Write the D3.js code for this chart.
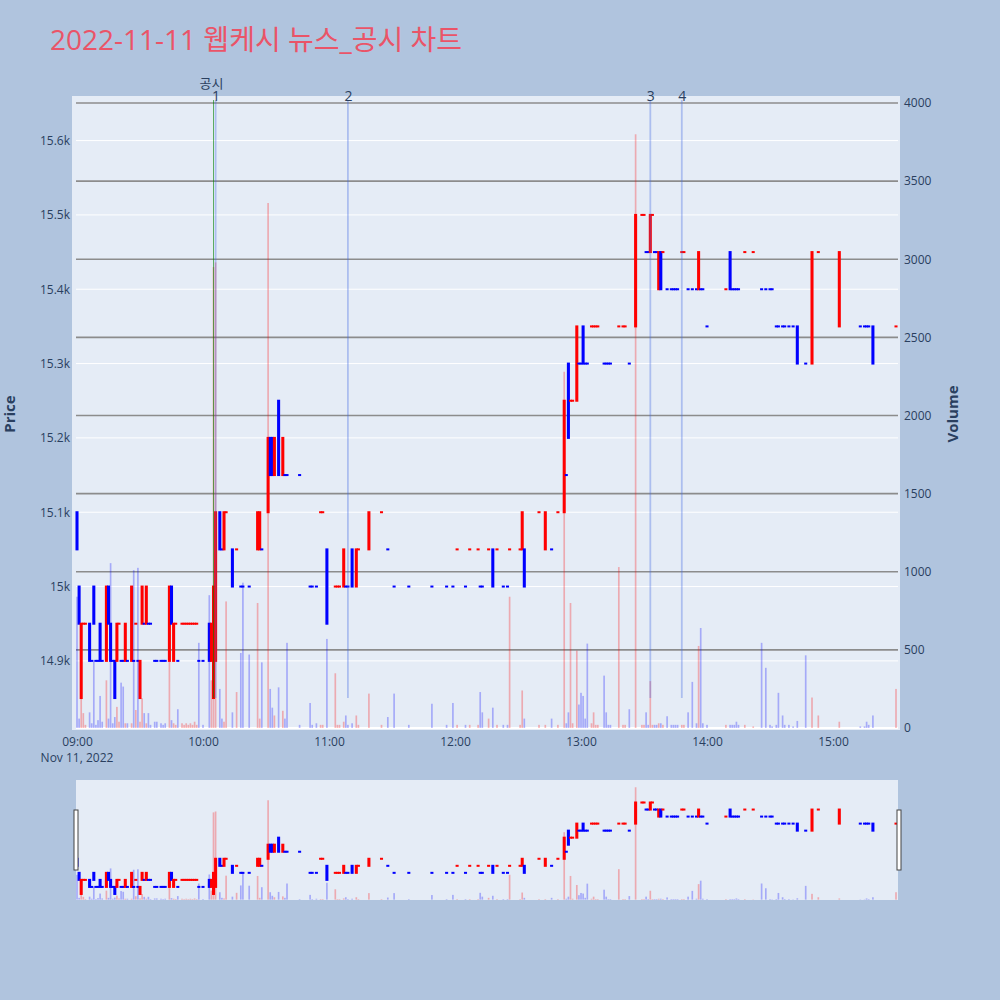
<!DOCTYPE html>
<html>
<head>
<meta charset="utf-8">
<script src="https://d3js.org/d3.v7.min.js"></script>
<style>
    body { margin: 0; background: #b0c4de; }
    #chart-area { width: 1000px; height: 1000px; }
    text { font-family: "Open Sans", "Noto Sans CJK KR", sans-serif; }
</style>
</head>
<body>
<div id="chart-area"></div>
<script>

// chart texts
var chartTitle = "2022-11-11 웹케시 뉴스_공시 차트";
var tradeDate = "2022-11-11";
var dateLabel = "Nov 11, 2022";

// 1 minute candles (only minutes with trades), one line per hour
var times = [
    "09:00","09:01","09:02","09:03","09:04","09:06","09:07","09:08","09:09","09:10","09:11","09:12","09:14","09:15","09:16","09:17","09:18","09:19","09:20","09:21","09:22","09:23","09:24","09:26","09:27","09:28","09:29","09:30","09:31","09:32","09:33","09:34","09:35","09:37","09:38","09:40","09:41","09:42","09:44","09:45","09:46","09:47","09:48","09:50","09:51","09:52","09:53","09:54","09:55","09:56","09:57","09:58",
    "10:00","10:03","10:04","10:05","10:06","10:08","10:09","10:10","10:11","10:14","10:16","10:18","10:19","10:22","10:26","10:27","10:28","10:31","10:32","10:33","10:34","10:36","10:38","10:39","10:40","10:46","10:51","10:52","10:54","10:56","10:57","10:59",
    "11:03","11:04","11:05","11:07","11:08","11:09","11:11","11:13","11:14","11:19","11:25","11:28","11:31","11:38","11:49","11:56","11:59",
    "12:01","12:05","12:07","12:11","12:12","12:13","12:16","12:18","12:20","12:23","12:25","12:26","12:31","12:32","12:33","12:40","12:43","12:46","12:49","12:52","12:53","12:54","12:55","12:56","12:58","12:59",
    "13:00","13:01","13:02","13:03","13:05","13:06","13:07","13:08","13:11","13:12","13:13","13:14","13:18","13:20","13:21","13:23","13:26","13:29","13:30","13:31","13:32","13:33","13:34","13:35","13:36","13:37","13:38","13:39","13:41","13:43","13:44","13:45","13:46","13:48","13:49","13:51","13:53","13:55","13:56","13:57","13:58",
    "14:00","14:09","14:11","14:12","14:13","14:14","14:15","14:18","14:22","14:26","14:28","14:30","14:31","14:33","14:34","14:36","14:37","14:39","14:41","14:43","14:47","14:50","14:53",
    "15:03","15:13","15:15","15:16","15:17","15:19","15:30"
];

var opens = [
    15100,15000,14850,14950,14950,14950,14900,15000,14900,14900,14950,14900,14900,15000,14950,14900,14900,14900,14950,14900,14900,14900,14900,14900,14900,14950,14900,14850,14950,14950,14950,14950,14950,14900,14900,14900,14900,14900,14900,15000,14900,14950,14900,14950,14950,14950,14950,14950,14950,14950,14950,14900,
    14900,14950,14900,14850,14900,15100,15050,15050,15100,15050,15050,15000,15000,15000,15050,15050,15050,15100,15200,15200,15150,15250,15150,15150,15150,15150,15000,15000,15000,15100,15100,15050,
    15000,15000,15000,15000,15000,15000,15050,15000,15050,15050,15100,15050,15000,15000,15000,15000,15000,
    15050,15000,15050,15050,15000,15000,15050,15050,15050,15000,15000,15050,15050,15050,15050,15100,15050,15050,15100,15100,15150,15300,15250,15250,15250,15300,
    15300,15350,15300,15300,15350,15350,15350,15350,15300,15300,15300,15300,15350,15350,15350,15300,15350,15500,15500,15450,15450,15450,15500,15450,15450,15400,15450,15450,15400,15400,15400,15400,15400,15450,15450,15400,15400,15400,15400,15400,15400,
    15350,15400,15450,15400,15400,15400,15400,15450,15450,15400,15400,15400,15400,15350,15350,15350,15350,15350,15350,15350,15300,15300,15450,
    15350,15350,15350,15350,15350,15350,15350
];

var highs = [
    15100,15000,14950,14950,14950,14950,14900,15000,14900,14900,14950,14900,15000,15000,14950,14900,14900,14950,14950,14900,14900,14950,14900,15000,14900,14950,14900,14900,15000,14950,15000,14950,14950,14900,14900,14900,14900,14900,15000,15000,14950,14950,14900,14950,14950,14950,14950,14950,14950,14950,14950,14900,
    14900,14950,14950,15000,15100,15100,15050,15100,15100,15050,15050,15000,15000,15000,15100,15100,15050,15200,15200,15200,15200,15250,15200,15150,15150,15150,15000,15000,15000,15100,15100,15050,
    15000,15000,15000,15050,15000,15000,15050,15050,15050,15100,15100,15050,15000,15000,15000,15000,15000,
    15050,15000,15050,15050,15000,15000,15050,15050,15050,15000,15000,15050,15050,15100,15050,15100,15100,15050,15100,15250,15150,15300,15250,15250,15350,15300,
    15300,15350,15300,15300,15350,15350,15350,15350,15300,15300,15300,15300,15350,15350,15350,15300,15500,15500,15500,15450,15450,15500,15500,15450,15450,15450,15450,15450,15400,15400,15400,15400,15400,15450,15450,15400,15400,15400,15450,15400,15400,
    15350,15400,15450,15400,15400,15400,15400,15450,15450,15400,15400,15400,15400,15350,15350,15350,15350,15350,15350,15350,15300,15450,15450,
    15450,15350,15350,15350,15350,15350,15350
];

var lows = [
    15050,14950,14850,14950,14950,14900,14900,14950,14900,14900,14900,14900,14900,14950,14900,14900,14850,14900,14950,14900,14900,14900,14900,14900,14900,14950,14900,14850,14950,14950,14950,14950,14950,14900,14900,14900,14900,14900,14900,14950,14900,14950,14900,14950,14950,14950,14950,14950,14950,14950,14950,14900,
    14900,14900,14900,14850,14900,15050,15050,15050,15100,15000,15050,15000,15000,15000,15050,15050,15050,15100,15150,15150,15150,15150,15150,15150,15150,15150,15000,15000,15000,15100,15100,14950,
    15000,15000,15000,15000,15000,15000,15000,15000,15050,15050,15100,15050,15000,15000,15000,15000,15000,
    15050,15000,15050,15050,15000,15000,15050,15000,15050,15000,15000,15050,15050,15050,15000,15100,15050,15050,15100,15100,15150,15200,15250,15250,15250,15300,
    15300,15300,15300,15300,15350,15350,15350,15350,15300,15300,15300,15300,15350,15350,15350,15300,15350,15500,15500,15450,15450,15450,15500,15450,15450,15400,15400,15450,15400,15400,15400,15400,15400,15450,15450,15400,15400,15400,15400,15400,15400,
    15350,15400,15400,15400,15400,15400,15400,15450,15450,15400,15400,15400,15400,15350,15350,15350,15350,15350,15350,15300,15300,15300,15450,
    15350,15350,15350,15350,15350,15300,15350
];

var closes = [
    15050,14950,14950,14950,14950,14900,14900,14950,14900,14900,14900,14900,15000,14950,14900,14900,14850,14950,14950,14900,14900,14950,14900,15000,14900,14950,14900,14900,15000,14950,15000,14950,14950,14900,14900,14900,14900,14900,15000,14950,14950,14950,14900,14950,14950,14950,14950,14950,14950,14950,14950,14900,
    14900,14900,14950,15000,15100,15050,15050,15100,15100,15000,15050,15000,15000,15000,15100,15100,15050,15200,15150,15150,15200,15150,15200,15150,15150,15150,15000,15000,15000,15100,15100,14950,
    15000,15000,15000,15050,15000,15000,15000,15050,15050,15100,15100,15050,15000,15000,15000,15000,15000,
    15050,15000,15050,15050,15000,15000,15050,15000,15050,15000,15000,15050,15050,15100,15000,15100,15100,15050,15100,15250,15150,15200,15250,15250,15350,15300,
    15300,15300,15300,15300,15350,15350,15350,15350,15300,15300,15300,15300,15350,15350,15350,15300,15500,15500,15500,15450,15450,15500,15500,15450,15450,15450,15400,15450,15400,15400,15400,15400,15400,15450,15450,15400,15400,15400,15450,15400,15400,
    15350,15400,15400,15400,15400,15400,15400,15450,15450,15400,15400,15400,15400,15350,15350,15350,15350,15350,15350,15300,15300,15450,15450,
    15450,15350,15350,15350,15350,15300,15350
];

var volumes = [
    840,60,190,95,20,100,30,435,20,50,205,40,305,60,1055,30,70,135,40,290,265,30,30,30,1010,115,1025,40,190,95,30,95,20,40,40,30,20,30,425,50,30,20,120,30,20,30,20,30,20,40,20,545,
    20,850,305,2950,2980,250,60,40,810,100,230,480,930,470,800,60,420,3360,250,130,80,260,110,60,545,20,160,20,30,20,20,570,
    350,20,20,40,80,20,30,80,20,220,20,70,220,20,155,20,160,
    20,20,20,20,230,100,60,130,20,20,20,840,20,240,60,20,20,60,20,2280,30,100,800,30,495,150,
    225,205,60,540,30,100,20,20,335,100,20,20,1030,20,20,120,3800,20,20,100,20,300,20,20,20,30,30,20,75,20,20,20,20,20,20,100,295,30,525,640,30,
    20,20,20,20,20,40,20,20,10,545,385,20,10,20,225,80,20,20,10,45,465,195,80,
    40,10,10,40,20,80,250
];

// news and disclosure markers
var newsTimes = ["10:06", "11:09", "13:33", "13:48"];
var newsLabels = ["1", "2", "3", "4"];
var disclosureTimes = ["10:05"];
var disclosureLabels = ["공시"];

// tick labels
var hourTicks = ["09:00", "10:00", "11:00", "12:00", "13:00", "14:00", "15:00"];
var priceTicks = [14900, 15000, 15100, 15200, 15300, 15400, 15500, 15600];
var volumeTicks = [0, 500, 1000, 1500, 2000, 2500, 3000, 3500, 4000];


/*
 * CandleChart - Object constructor function
 * @param _parentElement 	-- the HTML element in which to draw the visualization
 */

CandleChart = function(_parentElement){
    this.parentElement = _parentElement;
    this.initVis();
};


CandleChart.prototype.initVis = function(){
    var vis = this;

    vis.width = 1000;
    vis.height = 1000;
    vis.plot = { left: 72, right: 900, top: 96, bottom: 730 };
    vis.slider = { left: 76, right: 898, top: 780, bottom: 900 };

    vis.svg = d3.select("#" + vis.parentElement).append("svg")
        .attr("width", vis.width)
        .attr("height", vis.height);

    vis.svg.append("rect")
        .attr("width", vis.width)
        .attr("height", vis.height)
        .attr("fill", "#b0c4de");

    vis.parseTime = function(t) { return d3.timeParse("%Y-%m-%d %H:%M:%S")(tradeDate + " " + t + (t.length == 5 ? ":00" : "")); };

    // scales (ranges padded like the original autorange)
    vis.x = d3.scaleTime()
        .domain([vis.parseTime("08:57:37"), vis.parseTime("15:31:54")])
        .range([vis.plot.left, vis.plot.right]);

    vis.y = d3.scaleLinear()
        .domain([14807, 15660])
        .range([vis.plot.bottom, vis.plot.top]);

    vis.yVol = d3.scaleLinear()
        .domain([-13, 4045])
        .range([vis.plot.bottom, vis.plot.top]);

    vis.ySlider = vis.y.copy().range([vis.slider.bottom, vis.slider.top]);
    vis.yVolSlider = vis.yVol.copy().range([vis.slider.bottom, vis.slider.top]);

    vis.wrangleData();
};


CandleChart.prototype.wrangleData = function(){
    var vis = this;

    // direction: close vs open, ties decided by the previous close
    vis.candles = [];
    var prevClose = null, prevUp = false;
    times.forEach(function(t, i){
        var up;
        if (closes[i] > opens[i]) up = true;
        else if (closes[i] < opens[i]) up = false;
        else if (prevClose !== null && closes[i] > prevClose) up = true;
        else if (prevClose !== null && closes[i] < prevClose) up = false;
        else up = prevUp;
        vis.candles.push({
            date: vis.parseTime(t),
            open: opens[i], high: highs[i], low: lows[i], close: closes[i],
            volume: volumes[i], up: up
        });
        prevClose = closes[i];
        prevUp = up;
    });

    vis.news = newsTimes.map(function(t, i){ return { date: vis.parseTime(t), label: newsLabels[i] }; });
    vis.disclosures = disclosureTimes.map(function(t, i){ return { date: vis.parseTime(t), label: disclosureLabels[i] }; });

    vis.updateVis();
};


CandleChart.prototype.drawTraces = function(g, yPrice, yVolume){
    var vis = this;
    var minute = vis.x(vis.parseTime("09:01")) - vis.x(vis.parseTime("09:00"));
    var half = minute * 0.25;
    var barW = minute * 0.8;

    var color = function(d) { return d.up ? "#ff0000" : "#0000ff"; };

    // wicks
    g.selectAll(".wick")
        .data(vis.candles.filter(function(d){ return d.high > Math.max(d.open, d.close) || d.low < Math.min(d.open, d.close); }))
        .enter().append("line")
        .attr("class", "wick")
        .attr("x1", function(d){ return vis.x(d.date); })
        .attr("x2", function(d){ return vis.x(d.date); })
        .attr("y1", function(d){ return yPrice(d.high); })
        .attr("y2", function(d){ return yPrice(d.low); })
        .attr("stroke", color)
        .attr("stroke-width", 2);

    // bodies (line width 2 around a narrow box)
    g.selectAll(".body")
        .data(vis.candles)
        .enter().append("rect")
        .attr("class", "body")
        .attr("x", function(d){ return vis.x(d.date) - half - 1; })
        .attr("width", half * 2 + 2)
        .attr("y", function(d){ return yPrice(Math.max(d.open, d.close)) - 1; })
        .attr("height", function(d){ return Math.abs(yPrice(d.open) - yPrice(d.close)) + 2; })
        .attr("fill", color);

    // volume bars
    g.selectAll(".vol")
        .data(vis.candles)
        .enter().append("rect")
        .attr("class", "vol")
        .attr("x", function(d){ return vis.x(d.date) - barW / 2; })
        .attr("width", barW)
        .attr("y", function(d){ return yVolume(d.volume); })
        .attr("height", function(d){ return yVolume(0) - yVolume(d.volume); })
        .attr("fill", color)
        .attr("opacity", 0.28);
};


CandleChart.prototype.updateVis = function(){
    var vis = this;

    // title
    vis.svg.append("text")
        .attr("x", 50)
        .attr("y", 50)
        .attr("font-size", 28)
        .attr("fill", "#ea5468")
        .text(chartTitle);

    // plot background
    vis.svg.append("rect")
        .attr("x", vis.plot.left)
        .attr("y", vis.plot.top)
        .attr("width", vis.plot.right - vis.plot.left)
        .attr("height", vis.plot.bottom - vis.plot.top)
        .attr("fill", "#e5ecf6");

    // price grid (white)
    vis.svg.selectAll(".pgrid")
        .data(priceTicks)
        .enter().append("line")
        .attr("class", "pgrid")
        .attr("x1", 76).attr("x2", 898)
        .attr("y1", function(d){ return vis.y(d); })
        .attr("y2", function(d){ return vis.y(d); })
        .attr("stroke", "#ffffff")
        .attr("stroke-width", 1);

    // volume grid (gray) and zero line
    vis.svg.selectAll(".vgrid")
        .data(volumeTicks.filter(function(d){ return d > 0; }))
        .enter().append("line")
        .attr("class", "vgrid")
        .attr("x1", 76).attr("x2", 898)
        .attr("y1", function(d){ return vis.yVol(d); })
        .attr("y2", function(d){ return vis.yVol(d); })
        .attr("stroke", "#8c8c8c")
        .attr("stroke-width", 1.6);

    vis.svg.append("line")
        .attr("x1", 76).attr("x2", 898)
        .attr("y1", vis.yVol(0)).attr("y2", vis.yVol(0))
        .attr("stroke", "#ffffff")
        .attr("stroke-width", 2);

    // candles + volume
    vis.svg.append("clipPath").attr("id", "plot-clip")
        .append("rect")
        .attr("x", vis.plot.left).attr("y", vis.plot.top)
        .attr("width", vis.plot.right - vis.plot.left)
        .attr("height", vis.plot.bottom - vis.plot.top);

    vis.main = vis.svg.append("g").attr("clip-path", "url(#plot-clip)");
    vis.drawTraces(vis.main, vis.y, vis.yVol);

    // news lines
    var lineTop = 100;
    var lineBottom = vis.y(d3.min(lows));

    vis.svg.selectAll(".news")
        .data(vis.news)
        .enter().append("line")
        .attr("class", "news")
        .attr("x1", function(d){ return vis.x(d.date); })
        .attr("x2", function(d){ return vis.x(d.date); })
        .attr("y1", lineTop).attr("y2", lineBottom)
        .attr("stroke", "#4169e1")
        .attr("stroke-opacity", 0.35)
        .attr("stroke-width", 1.8);

    vis.svg.selectAll(".disc")
        .data(vis.disclosures)
        .enter().append("line")
        .attr("class", "disc")
        .attr("x1", function(d){ return vis.x(d.date); })
        .attr("x2", function(d){ return vis.x(d.date); })
        .attr("y1", lineTop).attr("y2", lineBottom)
        .attr("stroke", "#008000")
        .attr("stroke-opacity", 0.6)
        .attr("stroke-width", 1);

    vis.svg.selectAll(".disc-label")
        .data(vis.disclosures)
        .enter().append("text")
        .attr("class", "disc-label")
        .attr("x", function(d){ return vis.x(d.date) - 2; })
        .attr("y", 88)
        .attr("text-anchor", "middle")
        .attr("font-size", 13)
        .attr("fill", "#2a3f5f")
        .text(function(d){ return d.label; });

    vis.svg.selectAll(".news-label")
        .data(vis.news)
        .enter().append("text")
        .attr("class", "news-label")
        .attr("x", function(d){ return vis.x(d.date) + 0.5; })
        .attr("y", 101)
        .attr("text-anchor", "middle")
        .attr("font-size", 14)
        .attr("fill", "#2a3f5f")
        .text(function(d){ return d.label; });

    // axes
    var xAxis = d3.axisBottom(vis.x)
        .tickValues(hourTicks.map(vis.parseTime))
        .tickFormat(d3.timeFormat("%H:%M"))
        .tickSize(0)
        .tickPadding(7);

    var yAxis = d3.axisLeft(vis.y)
        .tickValues(priceTicks)
        .tickFormat(d3.format("~s"))
        .tickSize(0)
        .tickPadding(2);

    var yVolAxis = d3.axisRight(vis.yVol)
        .tickValues(volumeTicks)
        .tickFormat(d3.format("d"))
        .tickSize(0)
        .tickPadding(4);

    var gx = vis.svg.append("g").attr("transform", "translate(0," + vis.plot.bottom + ")").call(xAxis);
    var gy = vis.svg.append("g").attr("transform", "translate(" + vis.plot.left + ",0)").call(yAxis);
    var gv = vis.svg.append("g").attr("transform", "translate(" + vis.plot.right + ",0)").call(yVolAxis);

    [gx, gy, gv].forEach(function(g){
        g.select(".domain").remove();
        g.selectAll("text")
            .attr("font-family", "'Open Sans', sans-serif")
            .attr("font-size", 12)
            .attr("fill", "#2a3f5f");
    });

    vis.svg.append("text")
        .attr("x", vis.x(vis.parseTime(hourTicks[0])))
        .attr("y", 762)
        .attr("text-anchor", "middle")
        .attr("font-size", 12)
        .attr("fill", "#2a3f5f")
        .text(dateLabel);

    // axis titles
    vis.svg.append("text")
        .attr("transform", "translate(15,414) rotate(-90)")
        .attr("text-anchor", "middle")
        .attr("font-size", 15)
        .attr("font-weight", "bold")
        .attr("fill", "#2a3f5f")
        .text("Price");

    vis.svg.append("text")
        .attr("transform", "translate(958,414) rotate(-90)")
        .attr("text-anchor", "middle")
        .attr("font-size", 15)
        .attr("font-weight", "bold")
        .attr("fill", "#2a3f5f")
        .text("Volume");

    // range slider
    vis.svg.append("rect")
        .attr("x", vis.slider.left).attr("y", vis.slider.top)
        .attr("width", vis.slider.right - vis.slider.left)
        .attr("height", vis.slider.bottom - vis.slider.top)
        .attr("fill", "#e5ecf6");

    vis.svg.append("clipPath").attr("id", "slider-clip")
        .append("rect")
        .attr("x", vis.slider.left).attr("y", vis.slider.top)
        .attr("width", vis.slider.right - vis.slider.left)
        .attr("height", vis.slider.bottom - vis.slider.top);

    vis.mini = vis.svg.append("g").attr("clip-path", "url(#slider-clip)");
    vis.drawTraces(vis.mini, vis.ySlider, vis.yVolSlider);

    var handleY = vis.slider.top + (vis.slider.bottom - vis.slider.top) / 4;
    var handleH = (vis.slider.bottom - vis.slider.top) / 2;
    [vis.slider.left - 2, vis.slider.right - 1].forEach(function(hx){
        vis.svg.append("rect")
            .attr("x", hx).attr("y", handleY)
            .attr("width", 4).attr("height", handleH)
            .attr("fill", "#ffffff")
            .attr("stroke", "#444444")
            .attr("stroke-width", 1);
    });
};


var chart = new CandleChart("chart-area");

</script>
</body>
</html>
